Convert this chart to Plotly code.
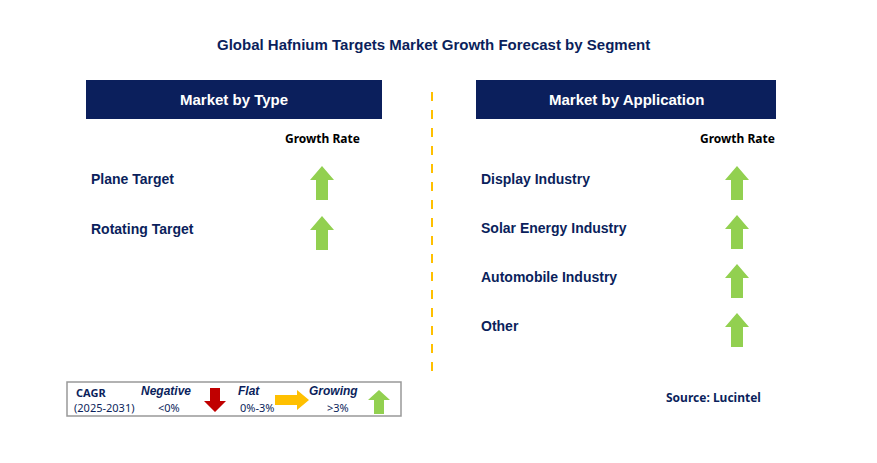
import plotly.graph_objects as go

title = "Global Hafnium Targets Market Growth Forecast by Segment"
type_segments = ["Plane Target", "Rotating Target"]
type_growth = ["Growing", "Growing"]
app_segments = ["Display Industry", "Solar Energy Industry", "Automobile Industry", "Other"]
app_growth = ["Growing", "Growing", "Growing", "Growing"]
source = "Source: Lucintel"

NAVY = "#0b1f5c"
GREEN = "#92d050"
RED = "#c00000"
YEL = "#ffc000"
FONT = "Liberation Sans"

fig = go.Figure()
shapes, ann = [], []

def up_arrow(cx, cy, h=34, hw=12, sw=6, hh=14, color=GREEN):
    top, bot = cy - h / 2, cy + h / 2
    path = (f"M{cx},{top} L{cx+hw},{top+hh} L{cx+sw},{top+hh} L{cx+sw},{bot} "
            f"L{cx-sw},{bot} L{cx-sw},{top+hh} L{cx-hw},{top+hh} Z")
    shapes.append(dict(type="path", path=path, fillcolor=color, line=dict(width=0), xref="x", yref="y"))

def text(x, y, s, size=14, color="black", bold=True, anchor="left", italic=False, family=FONT):
    if bold: s = f"<b>{s}</b>"
    if italic: s = f"<i>{s}</i>"
    ann.append(dict(x=x, y=y, text=s, showarrow=False, xanchor=anchor, yanchor="middle",
                    font=dict(size=size, color=color, family=family), xref="x", yref="y"))

text(433, 44, title, 15, NAVY, anchor="center")

def panel(x0, x1, header, segs, growth, lx, ax, y0, dy):
    shapes.append(dict(type="rect", x0=x0, x1=x1, y0=80, y1=119, fillcolor=NAVY, line=dict(width=0), xref="x", yref="y"))
    text((x0 + x1) / 2, 99.5, header, 15, "white", anchor="center")
    text(ax, 138, "Growth Rate", 12, "black", anchor="center", family="Noto Sans")
    for i, (s, g) in enumerate(zip(segs, growth)):
        y = y0 + i * dy
        text(lx, y, s, 14, NAVY)
        if g == "Growing":
            up_arrow(ax, y + 4)

panel(86, 382, "Market by Type", type_segments, type_growth, 89, 322, 179, 50)
panel(476, 776, "Market by Application", app_segments, app_growth, 479, 737, 179, 49)

shapes.append(dict(type="line", x0=432, x1=432, y0=92, y1=380, line=dict(color=YEL, width=2, dash="dash"), xref="x", yref="y"))

# legend box
shapes.append(dict(type="rect", x0=67, x1=401, y0=382, y1=416, line=dict(color="#999999", width=1.5), fillcolor="white", xref="x", yref="y"))
text(74, 392, "CAGR", 11, NAVY, family="Noto Sans")
text(72, 407, "(2025-2031)", 11, NAVY, bold=False, family="Noto Sans")
text(166, 391, "Negative", 12, NAVY, anchor="center", italic=True)
text(169, 407, "<0%", 11, NAVY, bold=False, anchor="center", family="Noto Sans")
text(249, 391, "Flat", 12, NAVY, anchor="center", italic=True)
text(257, 407, "0%-3%", 11, NAVY, bold=False, anchor="center", family="Noto Sans")
text(333, 391, "Growing", 12, NAVY, anchor="center", italic=True)
text(338, 407, ">3%", 11, NAVY, bold=False, anchor="center", family="Noto Sans")
cx, t, b = 215, 388, 412
shapes.append(dict(type="path", path=f"M{cx-5},{t} L{cx+5},{t} L{cx+5},{b-11} L{cx+11},{b-11} L{cx},{b} L{cx-11},{b-11} L{cx-5},{b-11} Z",
                   fillcolor=RED, line=dict(width=0), xref="x", yref="y"))
l, r, cy = 275, 309, 400
shapes.append(dict(type="path", path=f"M{l},{cy-5} L{r-12},{cy-5} L{r-12},{cy-10} L{r},{cy} L{r-12},{cy+10} L{r-12},{cy+5} L{l},{cy+5} Z",
                   fillcolor=YEL, line=dict(width=0), xref="x", yref="y"))
up_arrow(379, 402, h=24, hw=11, sw=5, hh=10)

text(713, 397, source, 12, NAVY, anchor="center", family="Noto Sans")

fig.update_layout(width=877, height=463, margin=dict(l=0, r=0, t=0, b=0),
                  paper_bgcolor="white", plot_bgcolor="white", shapes=shapes, annotations=ann,
                  xaxis=dict(range=[8, 885], visible=False, fixedrange=True),
                  yaxis=dict(range=[471, 8], visible=False, fixedrange=True),
                  showlegend=False)
fig.write_html("out.html")
